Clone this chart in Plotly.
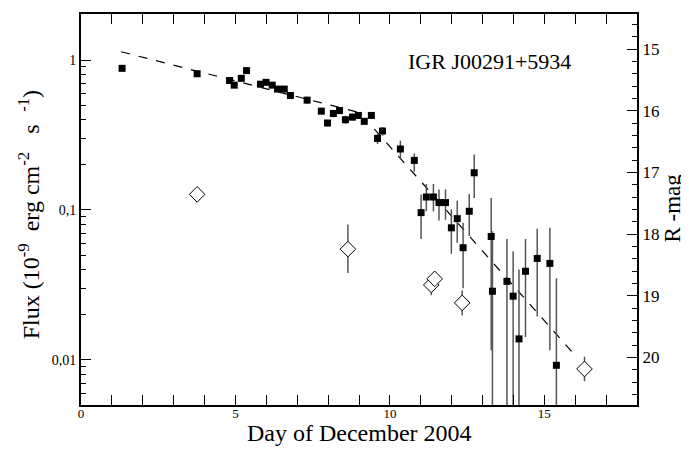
import plotly.graph_objects as go

# ---- data ----
sq_day = [1.33, 3.76, 4.81, 4.96, 5.19, 5.36, 5.81, 5.99, 6.19, 6.36, 6.58, 6.78,
          7.32, 7.78, 7.98, 8.17, 8.37, 8.56, 8.79, 8.98, 9.17, 9.40, 9.60, 9.76,
          10.34, 10.79, 11.01, 11.18, 11.41, 11.59, 11.80, 11.99, 12.18, 12.37,
          12.57, 12.73, 13.28, 13.32, 13.79, 13.99, 14.18, 14.39, 14.77, 15.18, 15.39]
sq_flux = [0.88, 0.81, 0.73, 0.68, 0.755, 0.85, 0.69, 0.71, 0.68, 0.64, 0.64, 0.58,
           0.54, 0.456, 0.38, 0.44, 0.46, 0.40, 0.416, 0.427, 0.39, 0.427, 0.30, 0.336,
           0.255, 0.214, 0.096, 0.122, 0.122, 0.112, 0.112, 0.076, 0.0875, 0.056,
           0.098, 0.177, 0.0665, 0.0287, 0.0334, 0.0266, 0.0138, 0.039, 0.0475, 0.044, 0.0092]
sq_hi = [0.91, 0.83, 0.75, 0.70, 0.775, 0.87, 0.71, 0.73, 0.70, 0.66, 0.66, 0.60,
         0.57, 0.48, 0.40, 0.465, 0.48, 0.425, 0.44, 0.445, 0.41, 0.445, 0.323, 0.357,
         0.29, 0.238, 0.127, 0.149, 0.149, 0.137, 0.137, 0.101, 0.115, 0.082,
         0.128, 0.234, 0.12, 0.072, 0.064, 0.053, 0.040, 0.064, 0.075, 0.076, 0.035]
sq_lo = [0.85, 0.79, 0.71, 0.66, 0.735, 0.83, 0.67, 0.69, 0.66, 0.62, 0.62, 0.56,
         0.51, 0.435, 0.36, 0.415, 0.44, 0.375, 0.395, 0.41, 0.37, 0.41, 0.275, 0.313,
         0.22, 0.18, 0.064, 0.098, 0.098, 0.085, 0.086, 0.051, 0.0605, 0.030,
         0.067, 0.12, 0.0116, 0.001, 0.001, 0.001, 0.001, 0.0142, 0.0195, 0.0116, 0.001]

dia_day = [3.76, 8.64, 11.34, 11.45, 12.34, 16.30]
dia_flux = [0.127, 0.0548, 0.0316, 0.0347, 0.024, 0.0087]
dia_hi = [0.13, 0.080, 0.036, 0.039, 0.029, 0.0105]
dia_lo = [0.124, 0.038, 0.027, 0.030, 0.0198, 0.0072]

fit1_day = [1.30, 9.0]
fit1_flux = [1.135, 0.447]
fit2_day = [9.5, 16.0]
fit2_flux = [0.346, 0.0107]

flux_ticks = [0.01, 0.1, 1]
flux_ticktext = ["0,01", "0,1", "1"]
mag_ticks = [15, 16, 17, 18, 19, 20]

FONT = "Liberation Serif, Times New Roman, serif"

fig = go.Figure()

fig.add_trace(go.Scatter(x=fit1_day, y=fit1_flux, mode="lines",
                         line=dict(color="black", width=1.2, dash="dash"),
                         showlegend=False, hoverinfo="skip"))
fig.add_trace(go.Scatter(x=fit2_day, y=fit2_flux, mode="lines",
                         line=dict(color="black", width=1.2, dash="dash"),
                         showlegend=False, hoverinfo="skip"))

fig.add_trace(go.Scatter(
    x=sq_day, y=sq_flux, mode="markers",
    marker=dict(symbol="square", size=7, color="black"),
    error_y=dict(type="data", symmetric=False,
                 array=[h - f for h, f in zip(sq_hi, sq_flux)],
                 arrayminus=[f - l for f, l in zip(sq_flux, sq_lo)],
                 color="#555555", thickness=1.5, width=0),
    showlegend=False))

fig.add_trace(go.Scatter(
    x=dia_day, y=dia_flux, mode="markers",
    marker=dict(symbol="diamond", size=12, color="white",
                line=dict(color="black", width=1)),
    error_y=dict(type="data", symmetric=False,
                 array=[h - f for h, f in zip(dia_hi, dia_flux)],
                 arrayminus=[f - l for f, l in zip(dia_flux, dia_lo)],
                 color="#555555", thickness=1.5, width=0),
    showlegend=False))

# invisible trace to anchor the magnitude axis
fig.add_trace(go.Scatter(x=dia_day[:1], y=mag_ticks[:1], yaxis="y2", mode="markers",
                         marker=dict(opacity=0), showlegend=False, hoverinfo="skip"))

fig.add_annotation(text="IGR J00291+5934", x=0.735, y=0.878, xref="paper", yref="paper",
                   xanchor="center", yanchor="middle", showarrow=False,
                   font=dict(family=FONT, size=22, color="black"))

# axis titles placed as annotations for exact positioning
fig.add_annotation(text="Day of December 2004", x=0.5, y=-0.072, xref="paper", yref="paper",
                   xanchor="center", yanchor="middle", showarrow=False,
                   font=dict(family=FONT, size=24, color="black"))
fig.add_annotation(text="R -mag", x=1.064, y=0.504, xref="paper", yref="paper",
                   xanchor="center", yanchor="middle", showarrow=False, textangle=-90,
                   font=dict(family=FONT, size=23, color="black"))
fig.add_annotation(text="Flux (10<sup>-9</sup>  erg cm<sup>-2</sup>   s<sup>   -1</sup>)",
                   x=-0.094, y=0.487, xref="paper", yref="paper",
                   xanchor="center", yanchor="middle", showarrow=False, textangle=-90,
                   font=dict(family=FONT, size=24, color="black"))

minor_log = [m * 10.0 ** e for e in (-3, -2, -1, 0) for m in range(2, 10)]

# page body has an 8px margin: the figure is sized to fill the remaining window
fig.update_layout(
    width=681, height=441,
    margin=dict(l=73, r=52, t=4, b=44),
    paper_bgcolor="white", plot_bgcolor="white",
    font=dict(family=FONT, color="black"),
    xaxis=dict(range=[0, 18], dtick=5, tick0=0, ticks="inside", ticklen=10,
               tickwidth=1.2, tickcolor="black", ticklabelstandoff=-5,
               minor=dict(dtick=1, ticks="inside", ticklen=5, tickcolor="black", tickwidth=1.2),
               showline=True, linecolor="black", linewidth=2, mirror="allticks",
               showgrid=False, zeroline=False,
               tickfont=dict(family=FONT, size=13, color="black")),
    yaxis=dict(type="log", range=[-2.301, 0.307],
               tickvals=flux_ticks, ticktext=flux_ticktext,
               ticks="inside", ticklen=10, tickwidth=1.2, tickcolor="black",
               minor=dict(tickvals=minor_log, ticks="inside", ticklen=5,
                          tickcolor="black", tickwidth=1.2),
               showline=True, linecolor="black", linewidth=2, mirror=False,
               showgrid=False, zeroline=False,
               tickfont=dict(family=FONT, size=14, color="black")),
    yaxis2=dict(overlaying="y", side="right", range=[20.77, 14.43],
                tickvals=mag_ticks, ticks="inside", ticklen=10, tickwidth=1.2,
                tickcolor="black",
                minor=dict(dtick=0.2, ticks="inside", ticklen=5, tickcolor="black", tickwidth=1.2),
                showline=True, linecolor="black", linewidth=2,
                showgrid=False, zeroline=False,
                tickfont=dict(family=FONT, size=17, color="black")),
)

fig.write_html("out.html")
